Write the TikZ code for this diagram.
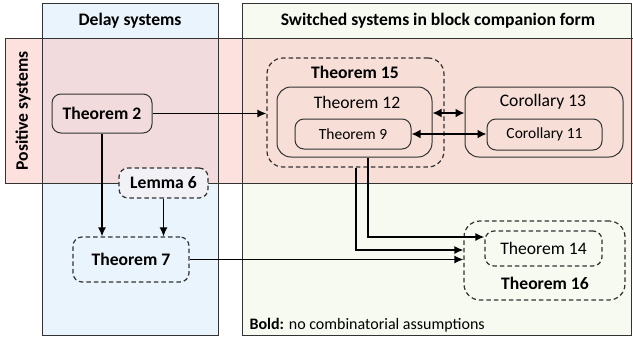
\documentclass[tikz,border=0pt]{standalone}
\usepackage{fontspec}
\setmainfont{Carlito}
\usetikzlibrary{positioning,arrows.meta}

\definecolor{delayblue}{HTML}{EAF4FC}
\definecolor{switchgreen}{HTML}{F6FAF1}
\definecolor{pospink}{HTML}{F9C3BF}
\definecolor{framegray}{HTML}{333333}
\definecolor{lemmafill}{HTML}{F2F1F6}

\tikzset{
    bigfont/.style={font=\fontsize{17.6}{20}\selectfont},
    boldfont/.style={font=\bfseries\fontsize{17.6}{20}\selectfont},
    smallfont/.style={font=\fontsize{15.5}{18}\selectfont},
    thmbox/.style={draw=framegray,line width=1pt,rounded corners=9pt,align=center,inner sep=0pt},
    dashbox/.style={thmbox,dash pattern=on 4.5pt off 3pt,line width=1.2pt},
    link/.style={line width=1.4pt,-{Latex[length=9pt,width=8pt]}},
    twoway/.style={line width=2.2pt,{Latex[length=9pt,width=9pt]}-{Latex[length=9pt,width=9pt]}}
}

\begin{document}
\begin{tikzpicture}[x=1pt,y=-1pt]
    \useasboundingbox (0,0) rectangle (633,341);

    % columns and the positive band
    \fill[delayblue] (42,3) rectangle (218,335);
    \fill[switchgreen] (242,3) rectangle (631,335);
    \fill[pospink,opacity=0.5] (5,38) rectangle (633,183);
    \draw[framegray,line width=1pt] (42,3) rectangle (218,335);
    \draw[framegray,line width=1pt] (242,3) rectangle (631,335);
    \draw[framegray,line width=1pt] (633,38) -- (5,38) -- (5,183) -- (633,183);

    \node[boldfont] (hdelay) at (130,21) {Delay systems};
    \node[boldfont] (hswitch) at (438,21) {Switched systems in block companion form};
    \node[boldfont,rotate=90] (hpos) at (23,111) {Positive systems};

    % delay side
    \node[thmbox,boldfont,minimum width=100pt,minimum height=39pt] (thm2) at (102,113.5) {Theorem 2};
    \node[dashbox,boldfont,fill=lemmafill,minimum width=89pt,minimum height=30pt] (lem6) at (163.5,183) {Lemma 6};
    \node[dashbox,boldfont,minimum width=116pt,minimum height=45pt] (thm7) at (131,259.5) {Theorem 7};

    % switched side
    \node[dashbox,rounded corners=16pt,minimum width=177pt,minimum height=109pt] (thm15) at (355.5,112.5) {};
    \node[boldfont] (thm15lbl) at (355,72) {Theorem 15};
    \node[thmbox,rounded corners=14pt,minimum width=155pt,minimum height=70pt] (thm12) at (354.5,122) {};
    \node[bigfont] (thm12lbl) at (357,102) {Theorem 12};
    \node[thmbox,smallfont,minimum width=116pt,minimum height=30pt] (thm9) at (353,134) {Theorem 9};

    \node[thmbox,rounded corners=14pt,minimum width=158pt,minimum height=70pt] (cor13) at (544,122) {};
    \node[bigfont] (cor13lbl) at (543,102) {Corollary 13};
    \node[thmbox,smallfont,minimum width=115pt,minimum height=31pt] (cor11) at (544.5,134.5) {Corollary 11};

    \node[dashbox,rounded corners=16pt,minimum width=161pt,minimum height=79pt] (thm16) at (544.5,260.5) {};
    \node[boldfont] (thm16lbl) at (545,283) {Theorem 16};
    \node[dashbox,bigfont,minimum width=117pt,minimum height=35pt] (thm14) at (543.5,248.5) {Theorem 14};

    \node[anchor=west,font=\fontsize{16}{19}\selectfont] (note) at (246,325) {\textbf{Bold:} no combinatorial assumptions};

    % implications
    \draw[link] (thm2.east) -- (thm2.east -| thm15.west);
    \draw[link] (thm2.south) -- (thm2.south |- thm7.north);
    \draw[link] (lem6.south) -- (lem6.south |- thm7.north);
    \draw[link] (thm7.east) -- (thm7.east -| thm16.west);
    \draw[link] ([xshift=13.5pt]thm12.south) |- ([yshift=11.5pt]thm14.west);
    \draw[link] ([xshift=0.5pt]thm15.south) |- ([yshift=10.5pt]thm16.west);
    \draw[twoway] ([yshift=9pt]thm12.east) -- ([yshift=9pt]thm12.east -| cor13.west);
    \draw[twoway] (thm9.east) -- (thm9.east -| cor11.west);
\end{tikzpicture}
\end{document}
